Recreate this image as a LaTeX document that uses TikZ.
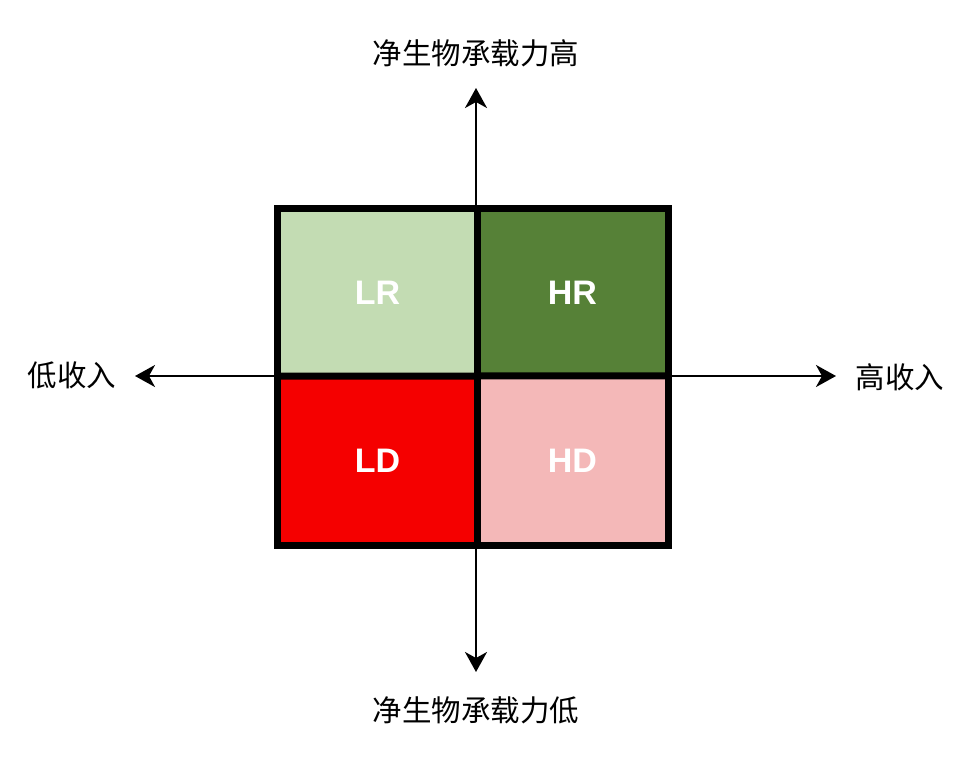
\documentclass[tikz,border=0pt]{standalone}
\usepackage{fontspec}
\setmainfont{Liberation Sans}
\newfontfamily\cjk{Noto Sans CJK SC}
\usetikzlibrary{arrows.meta}
\definecolor{lrcol}{HTML}{C3DCB3}
\definecolor{hrcol}{HTML}{568137}
\definecolor{ldcol}{HTML}{F50000}
\definecolor{hdcol}{HTML}{F4B8B8}
\tikzset{
  cell/.style={draw=none, inner sep=0pt, text=white, font=\fontsize{34}{34}\selectfont\bfseries},
  axis/.style={line width=2.2pt, -{Stealth[length=20pt,width=22pt,inset=6pt]}},
  lab/.style={font=\cjk\fontsize{29.5}{29.5}\selectfont, inner sep=0pt},
  grid/.style={line width=7pt}
}
\begin{document}
\begin{tikzpicture}[x=1pt,y=-1pt]
\useasboundingbox (0,0) rectangle (975,769);
\fill[white] (0,0) rectangle (975,769);
% axes
\coordinate (c) at (476,376);
\coordinate (tu) at (476,88);
\coordinate (td) at (476,672);
\coordinate (tl) at (135,376);
\coordinate (tr) at (836,376);
\draw[axis] (c) -- (tu);
\draw[axis] (c) -- (td);
\draw[axis] (c) -- (tl);
\draw[axis] (c) -- (tr);
% cells
\node[cell, fill=lrcol, minimum width=199pt, minimum height=167pt] (LR) at (377.5,292.5) {LR};
\node[cell, fill=hrcol, minimum width=191pt, minimum height=167pt] (HR) at (572.5,292.5) {HR};
\node[cell, fill=ldcol, minimum width=199pt, minimum height=169pt] (LD) at (377.5,460.5) {LD};
\node[cell, fill=hdcol, minimum width=191pt, minimum height=169pt] (HD) at (572.5,460.5) {HD};
\draw[grid] (LR.north west) rectangle (HD.south east);
\draw[grid] (LR.north east) -- (LD.south east);
\draw[grid] (LR.south west) -- (HD.north east);
% labels
\node[lab] (top) at (476,53) {净生物承载力高};
\node[lab] (bot) at (476,710) {净生物承载力低};
\node[lab] (left) at (72,375) {低收入};
\node[lab] (right) at (900,377) {高收入};
\end{tikzpicture}
\end{document}
